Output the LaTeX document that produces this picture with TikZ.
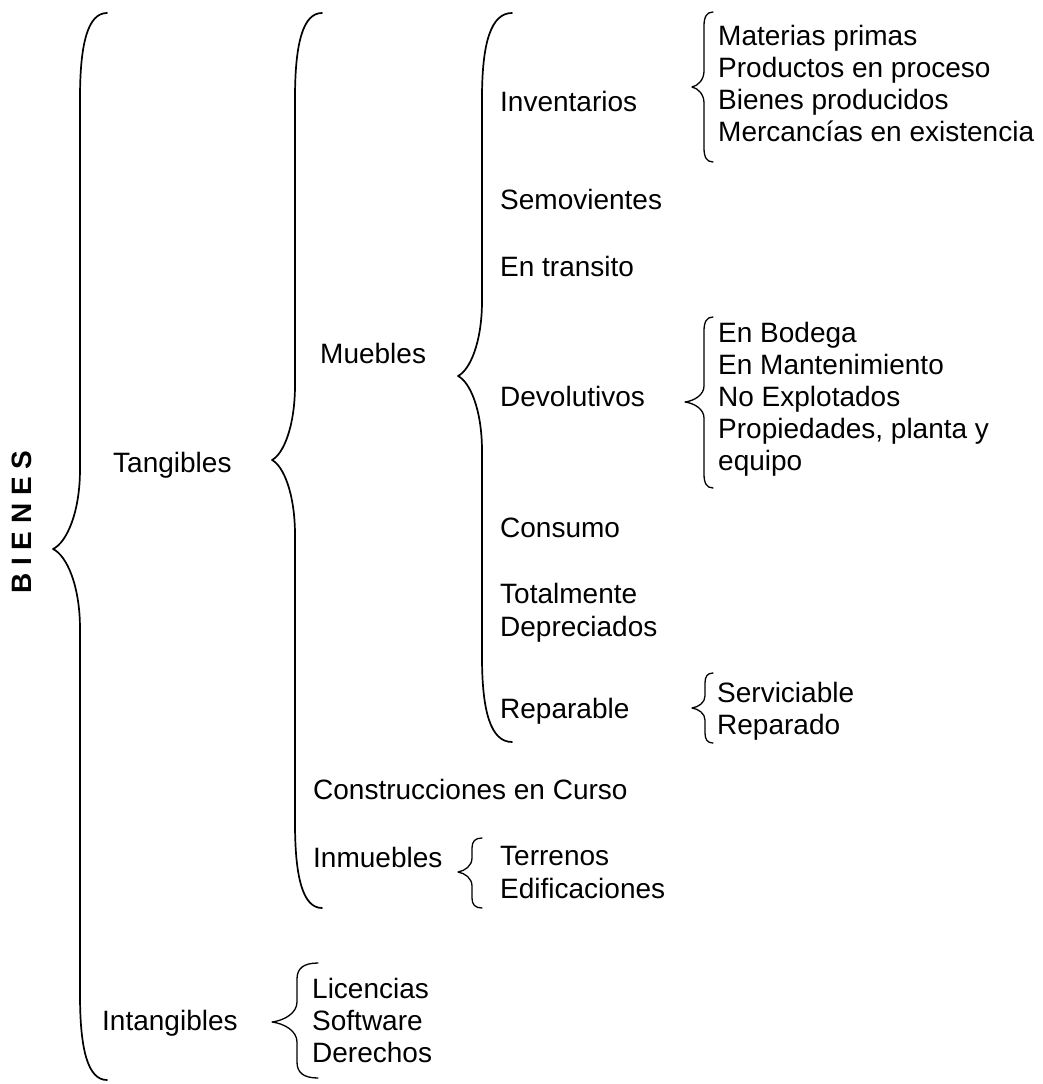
\documentclass[tikz,border=0pt]{standalone}
\usepackage{fontspec}
\setmainfont{Liberation Sans}
\newcommand\lbrc[9]{%
\draw[brace,line width=#9] (#1,#4) .. controls ({#2+0.3*(#1-#2)},#4) and (#2,{#4+0.35*#7}) .. (#2,{#4+#7})
 -- (#2,{#5-#8}) .. controls (#2,{#5-0.45*#8}) and ({#3+0.5*(#2-#3)},{#5-0.08*#8}) .. (#3,#5)
 .. controls ({#3+0.5*(#2-#3)},{#5+0.08*#8}) and (#2,{#5+0.45*#8}) .. (#2,{#5+#8})
 -- (#2,{#6-#7}) .. controls (#2,{#6-0.35*#7}) and ({#2+0.3*(#1-#2)},#6) .. (#1,#6);}
\begin{document}
\begin{tikzpicture}[x=1pt,y=-1pt,
  brace/.style={line cap=round, line join=round},
  txt/.style={font=\fontsize{28}{32.2}\selectfont, inner sep=0pt, align=left, anchor=base west}]
\useasboundingbox (0,0) rectangle (1042,1084);
% title
\node[rotate=90, inner sep=0pt, font=\fontsize{28}{32}\selectfont\bfseries] (bienes) at (22,522) {B I E N E S};
% braces
\lbrc{107}{80}{53}{13}{549}{1080}{85}{80}{1.7pt}
\lbrc{322}{295}{272}{13}{460}{908}{85}{75}{1.7pt}
\lbrc{512}{482}{458}{13}{376}{742}{85}{75}{1.7pt}
\lbrc{713}{704}{692}{12}{87}{162}{14}{16}{1.3pt}
\lbrc{713}{704}{685}{317}{402}{488}{14}{16}{1.3pt}
\lbrc{713}{705}{692}{673}{708}{743}{10}{12}{1.3pt}
\lbrc{482}{472}{458}{838}{872}{908}{10}{14}{1.3pt}
\lbrc{318}{297}{272}{963}{1022}{1078}{16}{20}{1.3pt}
% level 1
\node[txt] (tang) at (113,472) {Tangibles};
\node[txt] (intang) at (102,1030) {Intangibles};
% level 2
\node[txt] (mueb) at (320,363) {Muebles};
\node[txt] (constr) at (313,799) {Construcciones en Curso};
\node[txt] (inmueb) at (313,867) {Inmuebles};
\node[txt] (intlist) at (312,1062.4) {Licencias\\Software\\Derechos};
% level 3
\node[txt] (inv) at (500,111) {Inventarios};
\node[txt] (semov) at (500,209) {Semovientes};
\node[txt] (trans) at (500,276) {En transito};
\node[txt] (devol) at (500,406) {Devolutivos};
\node[txt] (consu) at (500,537) {Consumo};
\node[txt] (total) at (500,636) {Totalmente\\Depreciados};
\node[txt] (repar) at (500,718) {Reparable};
\node[txt] (inmlist) at (500,898) {Terrenos\\Edificaciones};
% level 4
\node[txt] (invlist) at (718,141.6) {Materias primas\\Productos en proceso\\Bienes producidos\\Mercancías en existencia};
\node[txt] (devlist) at (718,470.8) {En Bodega\\En Mantenimiento\\No Explotados\\Propiedades, planta y\\equipo};
\node[txt] (replist) at (717,734.2) {Serviciable\\Reparado};
\end{tikzpicture}
\end{document}
